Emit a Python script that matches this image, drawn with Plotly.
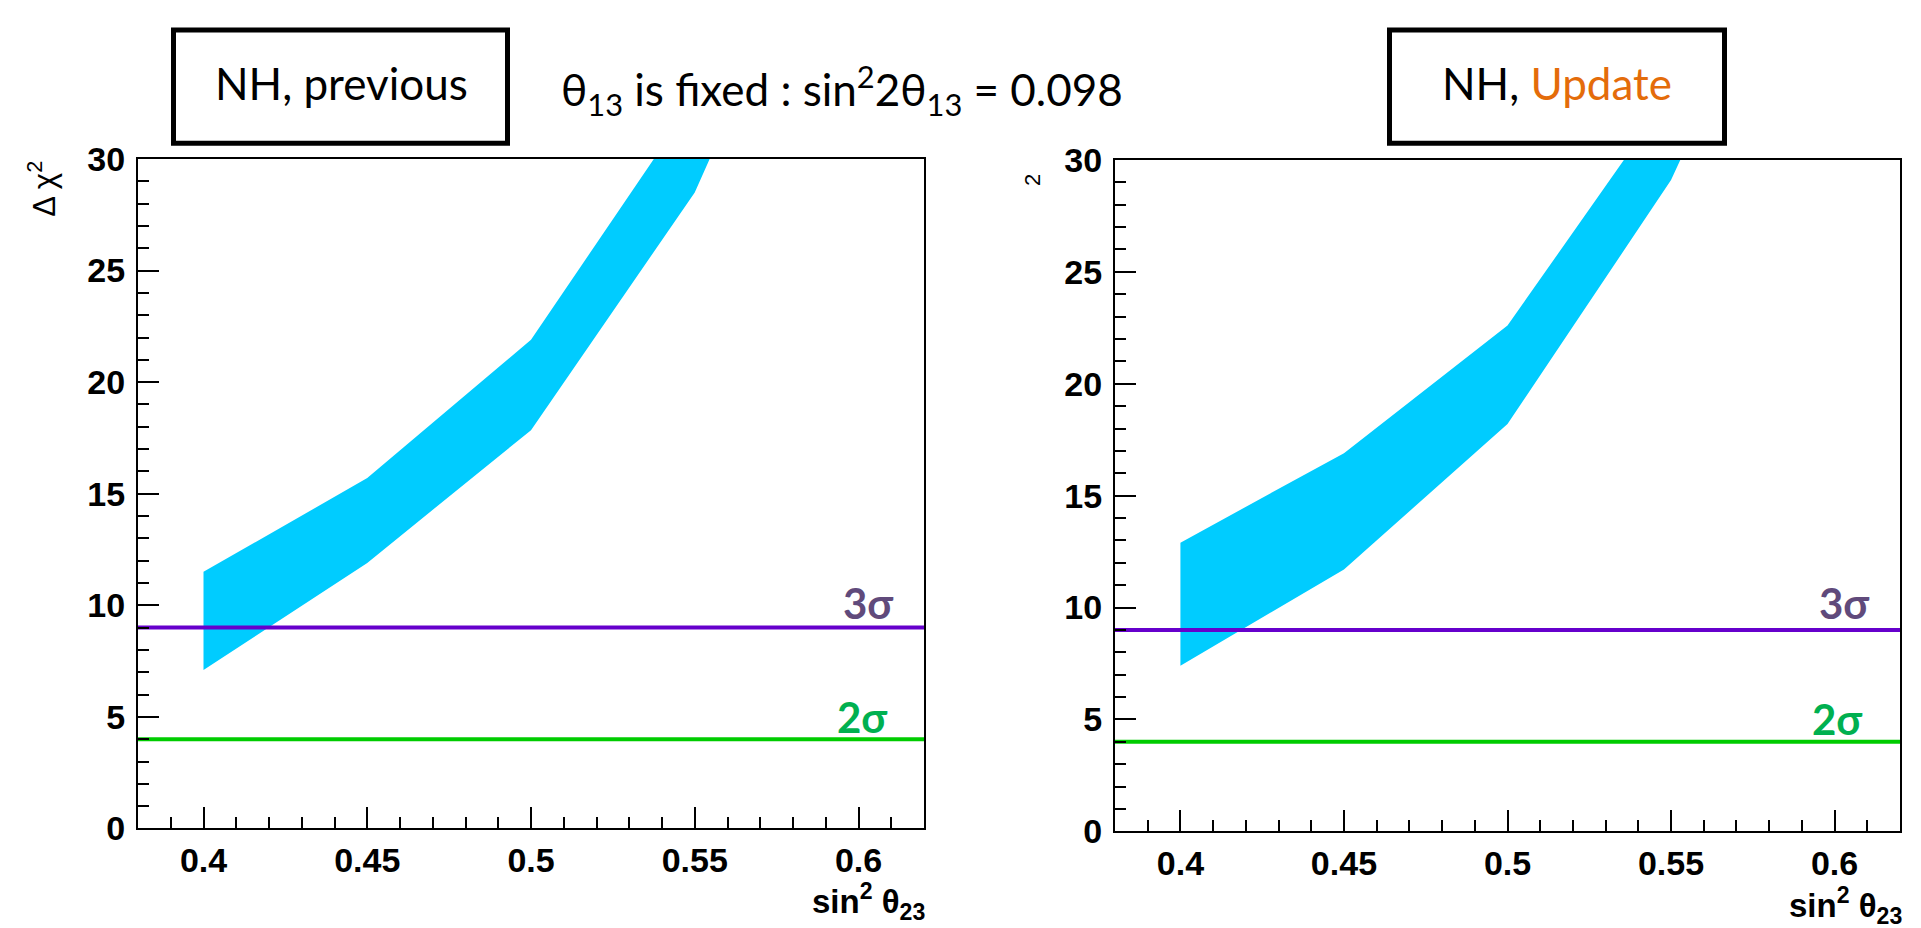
import plotly.graph_objects as go

W, H = 1921, 928

# ---- data ----
sin2_theta23 = [0.40, 0.45, 0.50, 0.55, 0.60]
prev_upper = [11.5, 15.7, 21.9, 32.7, 48.0]
prev_lower = [7.1, 11.9, 17.85, 28.5, 45.0]
upd_upper = [12.9, 16.9, 22.6, 33.0, 47.0]
upd_lower = [7.4, 11.7, 18.2, 29.1, 45.0]

sigma_levels = [9, 4]
sigma_labels = ["3σ", "2σ"]
sigma_line_colors = ["#6600CC", "#00CC00"]
sigma_text_colors = ["#604A7B", "#00B050"]

x_range = [0.38, 0.62]
y_range = [0, 30]
y_ticks = [0, 5, 10, 15, 20, 25, 30]
x_ticks = [0.4, 0.45, 0.5, 0.55, 0.6]
x_tick_text = ["0.4", "0.45", "0.5", "0.55", "0.6"]

band_color = "#00CCFF"


def px(x):
    return x / W


def py(y):
    return 1 - y / H


fig = go.Figure()

panels = [
    ("x", "y", prev_upper, prev_lower),
    ("x2", "y2", upd_upper, upd_lower),
]

for xa, ya, up, lo in panels:
    fig.add_trace(go.Scatter(
        x=sin2_theta23 + sin2_theta23[::-1],
        y=up + lo[::-1],
        fill="toself", fillcolor=band_color,
        mode="lines", line=dict(width=0, color=band_color),
        xaxis=xa, yaxis=ya, hoverinfo="skip", showlegend=False))
    for lvl, col in zip(sigma_levels, sigma_line_colors):
        fig.add_trace(go.Scatter(
            x=x_range, y=[lvl, lvl], mode="lines",
            line=dict(color=col, width=4),
            xaxis=xa, yaxis=ya, hoverinfo="skip", showlegend=False))

axis_common = dict(
    showgrid=False, zeroline=False,
    showline=True, linecolor="black", linewidth=2, mirror=True,
    ticks="inside", ticklen=21, tickwidth=2, tickcolor="black",
    tickfont=dict(family="Liberation Sans", size=34, color="black", weight="bold"),
)

xaxis_common = dict(axis_common, range=x_range, tickvals=x_ticks,
                    ticktext=x_tick_text,
                    ticklabelstandoff=1,
                    minor=dict(dtick=0.01, tick0=0.38, ticks="inside", ticklen=11,
                               tickwidth=2, tickcolor="black", showgrid=False))
yaxis_common = dict(axis_common, range=y_range, tickvals=y_ticks,
                    ticklabelstandoff=4,
                    minor=dict(dtick=1, tick0=0, ticks="inside", ticklen=11,
                               tickwidth=2, tickcolor="black", showgrid=False))

fig.update_layout(
    width=W, height=H,
    margin=dict(l=0, r=0, t=0, b=0),
    paper_bgcolor="white", plot_bgcolor="white",
    showlegend=False,
    xaxis=dict(xaxis_common, domain=[px(138), px(924)], anchor="y"),
    yaxis=dict(yaxis_common, domain=[py(844), py(146)], anchor="x"),
    xaxis2=dict(xaxis_common, domain=[px(1115), px(1900)], anchor="y2"),
    yaxis2=dict(yaxis_common, domain=[py(847), py(147)], anchor="x2"),
)

annotations = []
# sigma labels
sig_pos = {
    ("x", "y"): [(0.6115, 10.1), (0.6097, 5.0)],
    ("x2", "y2"): [(0.6114, 10.2), (0.6094, 5.0)],
}
for (xa, ya), pos in sig_pos.items():
    for (xv, yv), lab, col in zip(pos, sigma_labels, sigma_text_colors):
        annotations.append(dict(
            x=xv, y=yv, xref=xa, yref=ya, text=lab, showarrow=False,
            xanchor="right", yanchor="middle",
            font=dict(family="Lato", size=42, color=col, weight="bold")))

# axis titles
for xr, yb in [(927, 947), (1904, 951)]:
    annotations.append(dict(
        x=px(xr), y=py(yb), xref="paper", yref="paper",
        text="sin<sup>2</sup> θ<sub>23</sub>", showarrow=False,
        xanchor="right", yanchor="bottom",
        font=dict(family="Liberation Sans", size=33, color="black", weight="bold")))

annotations.append(dict(
    x=px(42), y=py(177), xref="paper", yref="paper",
    text="Δ χ<sup>2</sup>", showarrow=False, textangle=-90,
    xanchor="center", yanchor="middle",
    font=dict(family="Liberation Sans", size=31, color="black")))
annotations.append(dict(
    x=px(1032), y=py(168), xref="paper", yref="paper",
    text="2", showarrow=False, textangle=-90,
    xanchor="center", yanchor="middle",
    font=dict(family="Liberation Sans", size=22, color="black")))

# overlay boxes and title
annotations.append(dict(
    x=px(341), y=py(67), xref="paper", yref="paper",
    text="NH, previous", showarrow=False, xanchor="center", yanchor="middle",
    font=dict(family="Lato", size=44, color="black")))
annotations.append(dict(
    x=px(1557), y=py(67), xref="paper", yref="paper",
    text="NH, <span style='color:#E46C0A'>Update</span>", showarrow=False,
    xanchor="center", yanchor="middle",
    font=dict(family="Lato", size=44, color="black")))
annotations.append(dict(
    x=px(842), y=py(75), xref="paper", yref="paper",
    text="θ<sub>13</sub> is fixed : sin<sup>2</sup>2θ<sub>13</sub> = 0.098",
    showarrow=False, xanchor="center", yanchor="middle",
    font=dict(family="Lato", size=44, color="black")))

shapes = []
for x0, x1 in [(171, 510), (1387, 1727)]:
    shapes.append(dict(
        type="rect", xref="paper", yref="paper",
        x0=px(x0 + 2.5), x1=px(x1 - 2.5), y0=py(9 + 2.5), y1=py(132 - 2.5),
        line=dict(color="black", width=5), fillcolor="rgba(0,0,0,0)"))

fig.update_layout(annotations=annotations, shapes=shapes)

fig.write_html("out.html")
